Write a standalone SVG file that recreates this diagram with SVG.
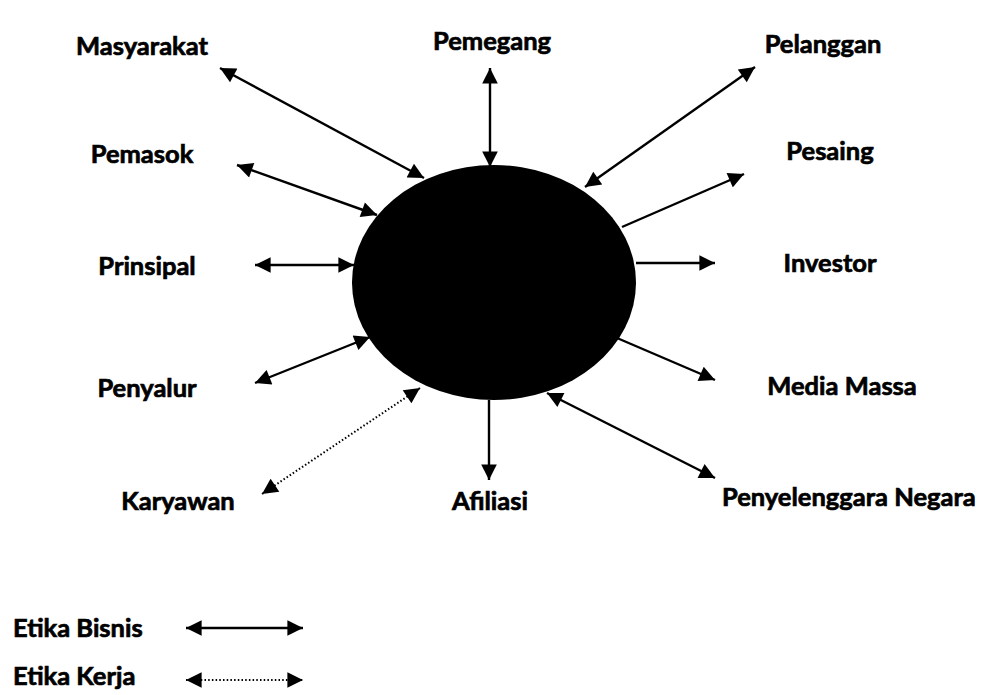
<svg xmlns="http://www.w3.org/2000/svg" width="1005" height="695" viewBox="0 0 1005 695">
<style>
text{font-family:Lato,"Liberation Sans",sans-serif;font-weight:bold;font-size:25.5px;fill:#000;stroke:#000;stroke-width:0.7px}
.c{text-anchor:middle}
.ln{stroke:#000;stroke-width:2.4;fill:none}
.dot{stroke:#000;stroke-width:2;fill:none;stroke-dasharray:1.5 2.2}
</style>
<defs>
<marker id="ah" viewBox="0 0 10 10" refX="10" refY="5" markerWidth="7.5" markerHeight="6.5" markerUnits="strokeWidth" orient="auto-start-reverse">
<path d="M0,0 L10,5 L0,10 z" fill="#000"/>
</marker>
<marker id="ahd" viewBox="0 0 10 10" refX="10" refY="5" markerWidth="9" markerHeight="7.8" markerUnits="strokeWidth" orient="auto-start-reverse">
<path d="M0,0 L10,5 L0,10 z" fill="#000"/>
</marker>
</defs>
<g id="center"><ellipse cx="494" cy="282.5" rx="142" ry="117.5" fill="#000"/></g>
<g id="connectors">
<line class="ln" x1="424" y1="178" x2="220" y2="68" marker-start="url(#ah)" marker-end="url(#ah)"/>
<line class="ln" x1="377" y1="215" x2="237" y2="165" marker-start="url(#ah)" marker-end="url(#ah)"/>
<line class="ln" x1="490" y1="167" x2="490" y2="68" marker-start="url(#ah)" marker-end="url(#ah)"/>
<line class="ln" x1="585" y1="187" x2="755" y2="67" marker-start="url(#ah)" marker-end="url(#ah)"/>
<line class="ln" x1="622" y1="227" x2="744" y2="174" marker-end="url(#ah)"/>
<line class="ln" x1="354" y1="265" x2="255" y2="265" marker-start="url(#ah)" marker-end="url(#ah)"/>
<line class="ln" x1="636" y1="263" x2="715" y2="263" marker-end="url(#ah)"/>
<line class="ln" x1="370" y1="337" x2="255" y2="383" marker-start="url(#ah)" marker-end="url(#ah)"/>
<line class="ln" x1="617" y1="338" x2="715" y2="380" marker-end="url(#ah)"/>
<line class="dot" x1="420" y1="388" x2="262" y2="494" marker-start="url(#ahd)" marker-end="url(#ahd)"/>
<line class="ln" x1="489" y1="400" x2="489" y2="480" marker-end="url(#ah)"/>
<line class="ln" x1="547" y1="393" x2="715" y2="478" marker-start="url(#ah)" marker-end="url(#ah)"/>
</g>
<g id="n-masyarakat"><text class="c" x="142" y="55">Masyarakat</text></g>
<g id="n-pemegang"><text class="c" x="492" y="50">Pemegang</text></g>
<g id="n-pelanggan"><text class="c" x="823" y="53">Pelanggan</text></g>
<g id="n-pemasok"><text class="c" x="142" y="163">Pemasok</text></g>
<g id="n-pesaing"><text class="c" x="830" y="160">Pesaing</text></g>
<g id="n-prinsipal"><text class="c" x="147" y="275">Prinsipal</text></g>
<g id="n-investor"><text class="c" x="830" y="272">Investor</text></g>
<g id="n-penyalur"><text class="c" x="147" y="397">Penyalur</text></g>
<g id="n-media"><text class="c" x="842" y="395">Media Massa</text></g>
<g id="n-karyawan"><text class="c" x="178" y="510">Karyawan</text></g>
<g id="n-afiliasi"><text class="c" x="490" y="510">Afiliasi</text></g>
<g id="n-penyelenggara"><text x="722" y="506">Penyelenggara Negara</text></g>
<g id="legend">
<text x="13" y="637">Etika Bisnis</text>
<line class="ln" x1="186" y1="628" x2="303" y2="628" marker-start="url(#ah)" marker-end="url(#ah)"/>
<text x="13" y="685">Etika Kerja</text>
<line class="dot" x1="186" y1="680" x2="303" y2="680" marker-start="url(#ahd)" marker-end="url(#ahd)"/>
</g>
</svg>
